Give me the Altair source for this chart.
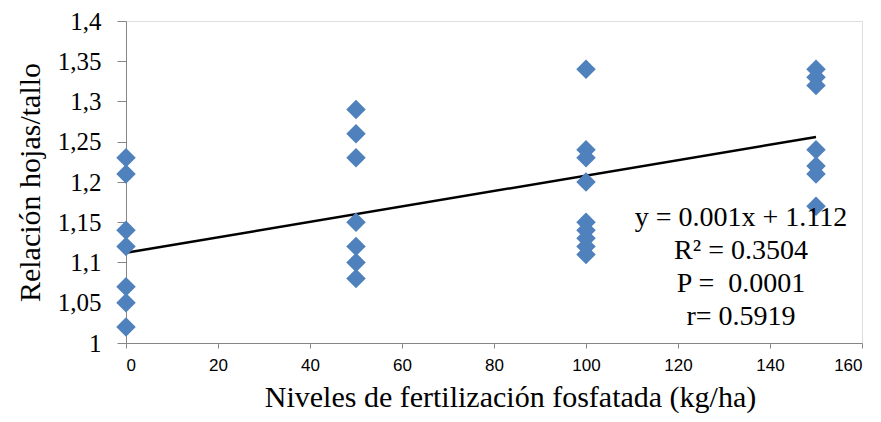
import altair as alt
import pandas as pd

# Data
x0 = [0, 0, 0, 0, 0, 0, 0]
y0 = [1.23, 1.21, 1.14, 1.12, 1.07, 1.05, 1.02]
x50 = [50, 50, 50, 50, 50, 50, 50]
y50 = [1.29, 1.26, 1.23, 1.15, 1.12, 1.10, 1.08]
x100 = [100, 100, 100, 100, 100, 100, 100, 100, 100]
y100 = [1.34, 1.24, 1.23, 1.20, 1.15, 1.14, 1.13, 1.12, 1.11]
x150 = [150, 150, 150, 150, 150, 150, 150]
y150 = [1.34, 1.33, 1.32, 1.24, 1.22, 1.21, 1.17]

trend_x = [0, 150]
trend_y = [1.112, 1.256]

y_ticks = [1.0, 1.05, 1.1, 1.15, 1.2, 1.25, 1.3, 1.35, 1.4]
x_ticks = [0, 20, 40, 60, 80, 100, 120, 140, 160]

annotation = ["y = 0.001x + 1.112", "R² = 0.3504", "P = \u00a00.0001", "r= 0.5919"]

pts = pd.DataFrame({"x": x0 + x50 + x100 + x150, "y": y0 + y50 + y100 + y150})
trend = pd.DataFrame({"x": trend_x, "y": trend_y})
ann = pd.DataFrame({"t": ["\n".join(annotation)]})

xscale = alt.Scale(domain=[0, 160], nice=False, zero=False)
yscale = alt.Scale(domain=[1.0, 1.4], nice=False, zero=False)

xaxis = alt.Axis(
    title="Niveles de fertilización fosfatada (kg/ha)",
    values=x_ticks, grid=False,
    domainColor="#868686", tickColor="#868686", tickSize=5,
    labelFont="Liberation Sans", labelFontSize=17, labelColor="black",
    labelPadding=9,
    titleFont="Liberation Serif", titleFontSize=30, titleFontWeight="normal",
    titleColor="black", titlePadding=9, titleX=384,
)
yaxis = alt.Axis(
    title="Relación hojas/tallo",
    values=y_ticks, grid=False,
    labelExpr="replace(format(datum.value, '.2~f'), '.', ',')",
    domainColor="#868686", tickColor="#868686", tickSize=9,
    labelFont="Liberation Serif", labelFontSize=25, labelColor="black",
    labelPadding=16,
    titleFont="Liberation Serif", titleFontSize=30, titleFontWeight="normal",
    titleColor="black", titlePadding=12,
)

points = alt.Chart(pts).mark_point(
    shape="diamond", filled=True, size=380, color="#4F81BD", opacity=1
).encode(
    x=alt.X("x:Q", scale=xscale, axis=xaxis),
    y=alt.Y("y:Q", scale=yscale, axis=yaxis),
)

line = alt.Chart(trend).mark_line(color="black", strokeWidth=2.5).encode(
    x=alt.X("x:Q", scale=xscale),
    y=alt.Y("y:Q", scale=yscale),
)

text = alt.Chart(ann).mark_text(
    font="Liberation Serif", fontSize=28, color="black", align="center",
    baseline="middle", lineBreak="\n", lineHeight=33
).encode(
    text="t:N",
    x=alt.value(615),
    y=alt.value(197),
)

chart = alt.layer(line, points, text).properties(
    width=736, height=322,
    padding={"left": 118, "top": 13, "right": 11, "bottom": 71},
    autosize=alt.AutoSizeParams(type="none"),
).configure_view(stroke=None).configure(background="white")

chart.save("out.html", embed_options={"renderer": "svg", "actions": False})
